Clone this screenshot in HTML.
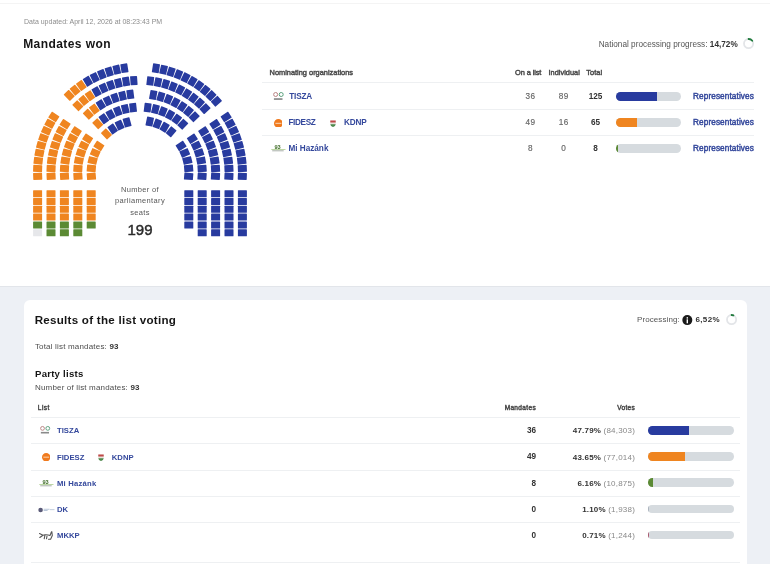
<!DOCTYPE html>
<html><head><meta charset="utf-8"><style>
html,body{margin:0;padding:0;background:#fff;width:770px;height:564px;overflow:hidden}
body{position:relative;font-family:"Liberation Sans",sans-serif;-webkit-font-smoothing:antialiased}
.t{position:absolute;white-space:nowrap;line-height:1}
.abs{position:absolute}
</style></head><body><div style="position:absolute;left:0;top:0;width:770px;height:564px;will-change:transform;filter:blur(0.4px)">
<div class="abs" style="left:0;top:3px;width:770px;height:1px;background:#f4f4f4"></div>
<div class="t" style="left:24px;top:17.60px;font-size:7px;font-weight:400;color:#8d8d8d;letter-spacing:0px;">Data updated: April 12, 2026 at 08:23:43 PM</div>
<div class="t" style="left:23.2px;top:37.80px;font-size:12px;font-weight:700;color:#151515;letter-spacing:0.42px;">Mandates won</div>
<div class="t" style="right:32.299999999999955px;top:40.90px;font-size:8.2px;font-weight:400;color:#555;letter-spacing:0.02px;">National processing progress: <b style="color:#333">14,72%</b></div>
<svg class="abs" style="left:742.0px;top:36.6px" width="13.2" height="13.2" viewBox="742.0 36.6 13.2 13.2"><circle cx="748.6" cy="43.2" r="4.6" fill="none" stroke="#e3e5e8" stroke-width="1.8"/><path d="M748.6 38.6 A4.6 4.6 0 0 1 752.27 40.43" fill="none" stroke="#1f7a3c" stroke-width="1.8" stroke-linecap="round"/></svg>
<svg class="abs" style="left:0;top:0" width="260" height="250" viewBox="0 0 260 250"><rect x="33.18" y="172.80" width="9.0" height="7.0" rx="0.5" fill="#ef8520" transform="rotate(-2.24 37.68 176.30)"/>
<rect x="237.82" y="172.80" width="9.0" height="7.0" rx="0.5" fill="#283b9f" transform="rotate(2.24 242.32 176.30)"/>
<rect x="33.17" y="165.00" width="9.0" height="7.0" rx="0.5" fill="#ef8520" transform="rotate(2.13 37.67 168.50)"/>
<rect x="237.83" y="165.00" width="9.0" height="7.0" rx="0.5" fill="#283b9f" transform="rotate(-2.13 242.33 168.50)"/>
<rect x="33.76" y="157.22" width="9.0" height="7.0" rx="0.5" fill="#ef8520" transform="rotate(6.50 38.26 160.72)"/>
<rect x="237.24" y="157.22" width="9.0" height="7.0" rx="0.5" fill="#283b9f" transform="rotate(-6.50 241.74 160.72)"/>
<rect x="34.94" y="149.50" width="9.0" height="7.0" rx="0.5" fill="#ef8520" transform="rotate(10.86 39.44 153.00)"/>
<rect x="236.06" y="149.50" width="9.0" height="7.0" rx="0.5" fill="#283b9f" transform="rotate(-10.86 240.56 153.00)"/>
<rect x="36.70" y="141.90" width="9.0" height="7.0" rx="0.5" fill="#ef8520" transform="rotate(15.23 41.20 145.40)"/>
<rect x="234.30" y="141.90" width="9.0" height="7.0" rx="0.5" fill="#283b9f" transform="rotate(-15.23 238.80 145.40)"/>
<rect x="39.03" y="134.45" width="9.0" height="7.0" rx="0.5" fill="#ef8520" transform="rotate(19.60 43.53 137.95)"/>
<rect x="231.97" y="134.45" width="9.0" height="7.0" rx="0.5" fill="#283b9f" transform="rotate(-19.60 236.47 137.95)"/>
<rect x="41.93" y="127.21" width="9.0" height="7.0" rx="0.5" fill="#ef8520" transform="rotate(23.97 46.43 130.71)"/>
<rect x="229.07" y="127.21" width="9.0" height="7.0" rx="0.5" fill="#283b9f" transform="rotate(-23.97 233.57 130.71)"/>
<rect x="45.37" y="120.20" width="9.0" height="7.0" rx="0.5" fill="#ef8520" transform="rotate(28.33 49.87 123.70)"/>
<rect x="225.63" y="120.20" width="9.0" height="7.0" rx="0.5" fill="#283b9f" transform="rotate(-28.33 230.13 123.70)"/>
<rect x="49.33" y="113.48" width="9.0" height="7.0" rx="0.5" fill="#ef8520" transform="rotate(32.70 53.83 116.98)"/>
<rect x="221.67" y="113.48" width="9.0" height="7.0" rx="0.5" fill="#283b9f" transform="rotate(-32.70 226.17 116.98)"/>
<rect x="46.59" y="172.80" width="9.0" height="7.0" rx="0.5" fill="#ef8520" transform="rotate(-2.58 51.09 176.30)"/>
<rect x="224.41" y="172.80" width="9.0" height="7.0" rx="0.5" fill="#283b9f" transform="rotate(2.58 228.91 176.30)"/>
<rect x="46.58" y="164.97" width="9.0" height="7.0" rx="0.5" fill="#ef8520" transform="rotate(2.46 51.08 168.47)"/>
<rect x="224.42" y="164.97" width="9.0" height="7.0" rx="0.5" fill="#283b9f" transform="rotate(-2.46 228.92 168.47)"/>
<rect x="47.26" y="157.18" width="9.0" height="7.0" rx="0.5" fill="#ef8520" transform="rotate(7.50 51.76 160.68)"/>
<rect x="223.74" y="157.18" width="9.0" height="7.0" rx="0.5" fill="#283b9f" transform="rotate(-7.50 228.24 160.68)"/>
<rect x="48.62" y="149.47" width="9.0" height="7.0" rx="0.5" fill="#ef8520" transform="rotate(12.54 53.12 152.97)"/>
<rect x="222.38" y="149.47" width="9.0" height="7.0" rx="0.5" fill="#283b9f" transform="rotate(-12.54 226.88 152.97)"/>
<rect x="50.66" y="141.92" width="9.0" height="7.0" rx="0.5" fill="#ef8520" transform="rotate(17.58 55.16 145.42)"/>
<rect x="220.34" y="141.92" width="9.0" height="7.0" rx="0.5" fill="#283b9f" transform="rotate(-17.58 224.84 145.42)"/>
<rect x="53.35" y="134.57" width="9.0" height="7.0" rx="0.5" fill="#ef8520" transform="rotate(22.62 57.85 138.07)"/>
<rect x="217.65" y="134.57" width="9.0" height="7.0" rx="0.5" fill="#283b9f" transform="rotate(-22.62 222.15 138.07)"/>
<rect x="56.67" y="127.48" width="9.0" height="7.0" rx="0.5" fill="#ef8520" transform="rotate(27.66 61.17 130.98)"/>
<rect x="214.33" y="127.48" width="9.0" height="7.0" rx="0.5" fill="#283b9f" transform="rotate(-27.66 218.83 130.98)"/>
<rect x="60.61" y="120.72" width="9.0" height="7.0" rx="0.5" fill="#ef8520" transform="rotate(32.70 65.11 124.22)"/>
<rect x="210.39" y="120.72" width="9.0" height="7.0" rx="0.5" fill="#283b9f" transform="rotate(-32.70 214.89 124.22)"/>
<rect x="60.01" y="172.80" width="9.0" height="7.0" rx="0.5" fill="#ef8520" transform="rotate(-3.03 64.51 176.30)"/>
<rect x="210.99" y="172.80" width="9.0" height="7.0" rx="0.5" fill="#283b9f" transform="rotate(3.03 215.49 176.30)"/>
<rect x="60.00" y="164.95" width="9.0" height="7.0" rx="0.5" fill="#ef8520" transform="rotate(2.92 64.50 168.45)"/>
<rect x="211.00" y="164.95" width="9.0" height="7.0" rx="0.5" fill="#283b9f" transform="rotate(-2.92 215.50 168.45)"/>
<rect x="60.81" y="157.13" width="9.0" height="7.0" rx="0.5" fill="#ef8520" transform="rotate(8.88 65.31 160.63)"/>
<rect x="210.19" y="157.13" width="9.0" height="7.0" rx="0.5" fill="#283b9f" transform="rotate(-8.88 214.69 160.63)"/>
<rect x="62.42" y="149.45" width="9.0" height="7.0" rx="0.5" fill="#ef8520" transform="rotate(14.83 66.92 152.95)"/>
<rect x="208.58" y="149.45" width="9.0" height="7.0" rx="0.5" fill="#283b9f" transform="rotate(-14.83 213.08 152.95)"/>
<rect x="64.82" y="141.97" width="9.0" height="7.0" rx="0.5" fill="#ef8520" transform="rotate(20.79 69.32 145.47)"/>
<rect x="206.18" y="141.97" width="9.0" height="7.0" rx="0.5" fill="#283b9f" transform="rotate(-20.79 210.68 145.47)"/>
<rect x="67.99" y="134.78" width="9.0" height="7.0" rx="0.5" fill="#ef8520" transform="rotate(26.74 72.49 138.28)"/>
<rect x="203.01" y="134.78" width="9.0" height="7.0" rx="0.5" fill="#283b9f" transform="rotate(-26.74 207.51 138.28)"/>
<rect x="71.88" y="127.96" width="9.0" height="7.0" rx="0.5" fill="#ef8520" transform="rotate(32.70 76.38 131.46)"/>
<rect x="199.12" y="127.96" width="9.0" height="7.0" rx="0.5" fill="#283b9f" transform="rotate(-32.70 203.62 131.46)"/>
<rect x="73.43" y="172.80" width="9.0" height="7.0" rx="0.5" fill="#ef8520" transform="rotate(-3.69 77.93 176.30)"/>
<rect x="197.57" y="172.80" width="9.0" height="7.0" rx="0.5" fill="#283b9f" transform="rotate(3.69 202.07 176.30)"/>
<rect x="73.42" y="164.90" width="9.0" height="7.0" rx="0.5" fill="#ef8520" transform="rotate(3.59 77.92 168.40)"/>
<rect x="197.58" y="164.90" width="9.0" height="7.0" rx="0.5" fill="#283b9f" transform="rotate(-3.59 202.08 168.40)"/>
<rect x="74.42" y="157.07" width="9.0" height="7.0" rx="0.5" fill="#ef8520" transform="rotate(10.87 78.92 160.57)"/>
<rect x="196.58" y="157.07" width="9.0" height="7.0" rx="0.5" fill="#283b9f" transform="rotate(-10.87 201.08 160.57)"/>
<rect x="76.39" y="149.43" width="9.0" height="7.0" rx="0.5" fill="#ef8520" transform="rotate(18.15 80.89 152.93)"/>
<rect x="194.61" y="149.43" width="9.0" height="7.0" rx="0.5" fill="#283b9f" transform="rotate(-18.15 199.11 152.93)"/>
<rect x="79.32" y="142.10" width="9.0" height="7.0" rx="0.5" fill="#ef8520" transform="rotate(25.42 83.82 145.60)"/>
<rect x="191.68" y="142.10" width="9.0" height="7.0" rx="0.5" fill="#283b9f" transform="rotate(-25.42 196.18 145.60)"/>
<rect x="83.16" y="135.20" width="9.0" height="7.0" rx="0.5" fill="#ef8520" transform="rotate(32.70 87.66 138.70)"/>
<rect x="187.84" y="135.20" width="9.0" height="7.0" rx="0.5" fill="#283b9f" transform="rotate(-32.70 192.34 138.70)"/>
<rect x="86.86" y="172.80" width="9.0" height="7.0" rx="0.5" fill="#ef8520" transform="rotate(-4.70 91.36 176.30)"/>
<rect x="184.14" y="172.80" width="9.0" height="7.0" rx="0.5" fill="#283b9f" transform="rotate(4.70 188.64 176.30)"/>
<rect x="86.86" y="164.84" width="9.0" height="7.0" rx="0.5" fill="#ef8520" transform="rotate(4.65 91.36 168.34)"/>
<rect x="184.14" y="164.84" width="9.0" height="7.0" rx="0.5" fill="#283b9f" transform="rotate(-4.65 188.64 168.34)"/>
<rect x="88.15" y="156.99" width="9.0" height="7.0" rx="0.5" fill="#ef8520" transform="rotate(14.00 92.65 160.49)"/>
<rect x="182.85" y="156.99" width="9.0" height="7.0" rx="0.5" fill="#283b9f" transform="rotate(-14.00 187.35 160.49)"/>
<rect x="90.70" y="149.46" width="9.0" height="7.0" rx="0.5" fill="#ef8520" transform="rotate(23.35 95.20 152.96)"/>
<rect x="180.30" y="149.46" width="9.0" height="7.0" rx="0.5" fill="#283b9f" transform="rotate(-23.35 184.80 152.96)"/>
<rect x="94.43" y="142.44" width="9.0" height="7.0" rx="0.5" fill="#ef8520" transform="rotate(32.70 98.93 145.94)"/>
<rect x="176.57" y="142.44" width="9.0" height="7.0" rx="0.5" fill="#283b9f" transform="rotate(-32.70 181.07 145.94)"/>
<rect x="64.75" y="91.87" width="9.0" height="7.0" rx="0.5" fill="#ef8520" transform="rotate(46.30 69.25 95.37)"/>
<rect x="70.60" y="86.70" width="9.0" height="7.0" rx="0.5" fill="#ef8520" transform="rotate(50.67 75.10 90.20)"/>
<rect x="76.82" y="81.98" width="9.0" height="7.0" rx="0.5" fill="#ef8520" transform="rotate(55.03 81.32 85.48)"/>
<rect x="83.38" y="77.76" width="9.0" height="7.0" rx="0.5" fill="#283b9f" transform="rotate(59.40 87.88 81.26)"/>
<rect x="90.24" y="74.04" width="9.0" height="7.0" rx="0.5" fill="#283b9f" transform="rotate(63.77 94.74 77.54)"/>
<rect x="97.37" y="70.87" width="9.0" height="7.0" rx="0.5" fill="#283b9f" transform="rotate(68.14 101.87 74.37)"/>
<rect x="104.71" y="68.24" width="9.0" height="7.0" rx="0.5" fill="#283b9f" transform="rotate(72.50 109.21 71.74)"/>
<rect x="112.24" y="66.18" width="9.0" height="7.0" rx="0.5" fill="#283b9f" transform="rotate(76.87 116.74 69.68)"/>
<rect x="119.90" y="64.69" width="9.0" height="7.0" rx="0.5" fill="#283b9f" transform="rotate(81.24 124.40 68.19)"/>
<rect x="73.34" y="102.20" width="9.0" height="7.0" rx="0.5" fill="#ef8520" transform="rotate(45.70 77.84 105.70)"/>
<rect x="79.18" y="96.99" width="9.0" height="7.0" rx="0.5" fill="#ef8520" transform="rotate(50.74 83.68 100.49)"/>
<rect x="85.45" y="92.31" width="9.0" height="7.0" rx="0.5" fill="#ef8520" transform="rotate(55.78 89.95 95.81)"/>
<rect x="92.11" y="88.20" width="9.0" height="7.0" rx="0.5" fill="#283b9f" transform="rotate(60.82 96.61 91.70)"/>
<rect x="99.10" y="84.68" width="9.0" height="7.0" rx="0.5" fill="#283b9f" transform="rotate(65.86 103.60 88.18)"/>
<rect x="106.37" y="81.80" width="9.0" height="7.0" rx="0.5" fill="#283b9f" transform="rotate(70.90 110.87 85.30)"/>
<rect x="113.87" y="79.57" width="9.0" height="7.0" rx="0.5" fill="#283b9f" transform="rotate(75.94 118.37 83.07)"/>
<rect x="121.54" y="78.00" width="9.0" height="7.0" rx="0.5" fill="#283b9f" transform="rotate(80.98 126.04 81.50)"/>
<rect x="129.32" y="77.12" width="9.0" height="7.0" rx="0.5" fill="#283b9f" transform="rotate(86.02 133.82 80.62)"/>
<rect x="83.84" y="110.70" width="9.0" height="7.0" rx="0.5" fill="#ef8520" transform="rotate(46.90 88.34 114.20)"/>
<rect x="89.85" y="105.64" width="9.0" height="7.0" rx="0.5" fill="#ef8520" transform="rotate(52.86 94.35 109.14)"/>
<rect x="96.35" y="101.23" width="9.0" height="7.0" rx="0.5" fill="#283b9f" transform="rotate(58.81 100.85 104.73)"/>
<rect x="103.27" y="97.51" width="9.0" height="7.0" rx="0.5" fill="#283b9f" transform="rotate(64.77 107.77 101.01)"/>
<rect x="110.54" y="94.54" width="9.0" height="7.0" rx="0.5" fill="#283b9f" transform="rotate(70.72 115.04 98.04)"/>
<rect x="118.08" y="92.33" width="9.0" height="7.0" rx="0.5" fill="#283b9f" transform="rotate(76.68 122.58 95.83)"/>
<rect x="125.81" y="90.92" width="9.0" height="7.0" rx="0.5" fill="#283b9f" transform="rotate(82.63 130.31 94.42)"/>
<rect x="93.24" y="120.26" width="9.0" height="7.0" rx="0.5" fill="#ef8520" transform="rotate(47.20 97.74 123.76)"/>
<rect x="99.36" y="115.28" width="9.0" height="7.0" rx="0.5" fill="#283b9f" transform="rotate(54.48 103.86 118.78)"/>
<rect x="106.06" y="111.11" width="9.0" height="7.0" rx="0.5" fill="#283b9f" transform="rotate(61.75 110.56 114.61)"/>
<rect x="113.24" y="107.82" width="9.0" height="7.0" rx="0.5" fill="#283b9f" transform="rotate(69.03 117.74 111.32)"/>
<rect x="120.78" y="105.47" width="9.0" height="7.0" rx="0.5" fill="#283b9f" transform="rotate(76.31 125.28 108.97)"/>
<rect x="128.55" y="104.09" width="9.0" height="7.0" rx="0.5" fill="#283b9f" transform="rotate(83.59 133.05 107.59)"/>
<rect x="101.97" y="130.44" width="9.0" height="7.0" rx="0.5" fill="#ef8520" transform="rotate(46.60 106.47 133.94)"/>
<rect x="108.18" y="125.47" width="9.0" height="7.0" rx="0.5" fill="#283b9f" transform="rotate(55.95 112.68 128.97)"/>
<rect x="115.11" y="121.56" width="9.0" height="7.0" rx="0.5" fill="#283b9f" transform="rotate(65.30 119.61 125.06)"/>
<rect x="122.58" y="118.84" width="9.0" height="7.0" rx="0.5" fill="#283b9f" transform="rotate(74.65 127.08 122.34)"/>
<rect x="151.43" y="64.75" width="9.0" height="7.0" rx="0.5" fill="#283b9f" transform="rotate(-81.05 155.93 68.25)"/>
<rect x="159.08" y="66.25" width="9.0" height="7.0" rx="0.5" fill="#283b9f" transform="rotate(-76.69 163.58 69.75)"/>
<rect x="166.60" y="68.34" width="9.0" height="7.0" rx="0.5" fill="#283b9f" transform="rotate(-72.32 171.10 71.84)"/>
<rect x="173.94" y="70.99" width="9.0" height="7.0" rx="0.5" fill="#283b9f" transform="rotate(-67.95 178.44 74.49)"/>
<rect x="181.06" y="74.19" width="9.0" height="7.0" rx="0.5" fill="#283b9f" transform="rotate(-63.58 185.56 77.69)"/>
<rect x="187.91" y="77.93" width="9.0" height="7.0" rx="0.5" fill="#283b9f" transform="rotate(-59.22 192.41 81.43)"/>
<rect x="194.46" y="82.17" width="9.0" height="7.0" rx="0.5" fill="#283b9f" transform="rotate(-54.85 198.96 85.67)"/>
<rect x="200.66" y="86.91" width="9.0" height="7.0" rx="0.5" fill="#283b9f" transform="rotate(-50.48 205.16 90.41)"/>
<rect x="206.49" y="92.10" width="9.0" height="7.0" rx="0.5" fill="#283b9f" transform="rotate(-46.11 210.99 95.60)"/>
<rect x="211.90" y="97.72" width="9.0" height="7.0" rx="0.5" fill="#283b9f" transform="rotate(-41.75 216.40 101.22)"/>
<rect x="145.79" y="77.50" width="9.0" height="7.0" rx="0.5" fill="#283b9f" transform="rotate(-83.36 150.29 81.00)"/>
<rect x="153.52" y="78.74" width="9.0" height="7.0" rx="0.5" fill="#283b9f" transform="rotate(-78.32 158.02 82.24)"/>
<rect x="161.11" y="80.66" width="9.0" height="7.0" rx="0.5" fill="#283b9f" transform="rotate(-73.28 165.61 84.16)"/>
<rect x="168.49" y="83.24" width="9.0" height="7.0" rx="0.5" fill="#283b9f" transform="rotate(-68.24 172.99 86.74)"/>
<rect x="175.63" y="86.46" width="9.0" height="7.0" rx="0.5" fill="#283b9f" transform="rotate(-63.20 180.13 89.96)"/>
<rect x="182.45" y="90.29" width="9.0" height="7.0" rx="0.5" fill="#283b9f" transform="rotate(-58.16 186.95 93.79)"/>
<rect x="188.91" y="94.71" width="9.0" height="7.0" rx="0.5" fill="#283b9f" transform="rotate(-53.12 193.41 98.21)"/>
<rect x="194.96" y="99.68" width="9.0" height="7.0" rx="0.5" fill="#283b9f" transform="rotate(-48.08 199.46 103.18)"/>
<rect x="200.55" y="105.15" width="9.0" height="7.0" rx="0.5" fill="#283b9f" transform="rotate(-43.04 205.05 108.65)"/>
<rect x="148.74" y="91.47" width="9.0" height="7.0" rx="0.5" fill="#283b9f" transform="rotate(-79.92 153.24 94.97)"/>
<rect x="156.39" y="93.24" width="9.0" height="7.0" rx="0.5" fill="#283b9f" transform="rotate(-73.96 160.89 96.74)"/>
<rect x="163.81" y="95.80" width="9.0" height="7.0" rx="0.5" fill="#283b9f" transform="rotate(-68.01 168.31 99.30)"/>
<rect x="170.93" y="99.12" width="9.0" height="7.0" rx="0.5" fill="#283b9f" transform="rotate(-62.05 175.43 102.62)"/>
<rect x="177.67" y="103.16" width="9.0" height="7.0" rx="0.5" fill="#283b9f" transform="rotate(-56.09 182.17 106.66)"/>
<rect x="183.95" y="107.87" width="9.0" height="7.0" rx="0.5" fill="#283b9f" transform="rotate(-50.14 188.45 111.37)"/>
<rect x="189.71" y="113.21" width="9.0" height="7.0" rx="0.5" fill="#283b9f" transform="rotate(-44.18 194.21 116.71)"/>
<rect x="143.14" y="104.17" width="9.0" height="7.0" rx="0.5" fill="#283b9f" transform="rotate(-82.94 147.64 107.67)"/>
<rect x="150.90" y="105.64" width="9.0" height="7.0" rx="0.5" fill="#283b9f" transform="rotate(-75.67 155.40 109.14)"/>
<rect x="158.41" y="108.07" width="9.0" height="7.0" rx="0.5" fill="#283b9f" transform="rotate(-68.39 162.91 111.57)"/>
<rect x="165.55" y="111.44" width="9.0" height="7.0" rx="0.5" fill="#283b9f" transform="rotate(-61.11 170.05 114.94)"/>
<rect x="172.21" y="115.69" width="9.0" height="7.0" rx="0.5" fill="#283b9f" transform="rotate(-53.83 176.71 119.19)"/>
<rect x="178.27" y="120.74" width="9.0" height="7.0" rx="0.5" fill="#283b9f" transform="rotate(-46.56 182.77 124.24)"/>
<rect x="145.25" y="118.08" width="9.0" height="7.0" rx="0.5" fill="#283b9f" transform="rotate(-78.48 149.75 121.58)"/>
<rect x="152.89" y="120.30" width="9.0" height="7.0" rx="0.5" fill="#283b9f" transform="rotate(-69.13 157.39 123.80)"/>
<rect x="160.07" y="123.73" width="9.0" height="7.0" rx="0.5" fill="#283b9f" transform="rotate(-59.77 164.57 127.23)"/>
<rect x="166.59" y="128.29" width="9.0" height="7.0" rx="0.5" fill="#283b9f" transform="rotate(-50.42 171.09 131.79)"/>
<rect x="33.10" y="190.20" width="9.0" height="7.0" rx="0.5" fill="#ef8520"/>
<rect x="33.10" y="198.00" width="9.0" height="7.0" rx="0.5" fill="#ef8520"/>
<rect x="33.10" y="205.80" width="9.0" height="7.0" rx="0.5" fill="#ef8520"/>
<rect x="33.10" y="213.60" width="9.0" height="7.0" rx="0.5" fill="#ef8520"/>
<rect x="33.10" y="221.40" width="9.0" height="7.0" rx="0.5" fill="#5b8a34"/>
<rect x="33.10" y="229.20" width="9.0" height="7.0" rx="0.5" fill="#e6e7ea"/>
<rect x="46.50" y="190.20" width="9.0" height="7.0" rx="0.5" fill="#ef8520"/>
<rect x="46.50" y="198.00" width="9.0" height="7.0" rx="0.5" fill="#ef8520"/>
<rect x="46.50" y="205.80" width="9.0" height="7.0" rx="0.5" fill="#ef8520"/>
<rect x="46.50" y="213.60" width="9.0" height="7.0" rx="0.5" fill="#ef8520"/>
<rect x="46.50" y="221.40" width="9.0" height="7.0" rx="0.5" fill="#5b8a34"/>
<rect x="46.50" y="229.20" width="9.0" height="7.0" rx="0.5" fill="#5b8a34"/>
<rect x="59.90" y="190.20" width="9.0" height="7.0" rx="0.5" fill="#ef8520"/>
<rect x="59.90" y="198.00" width="9.0" height="7.0" rx="0.5" fill="#ef8520"/>
<rect x="59.90" y="205.80" width="9.0" height="7.0" rx="0.5" fill="#ef8520"/>
<rect x="59.90" y="213.60" width="9.0" height="7.0" rx="0.5" fill="#ef8520"/>
<rect x="59.90" y="221.40" width="9.0" height="7.0" rx="0.5" fill="#5b8a34"/>
<rect x="59.90" y="229.20" width="9.0" height="7.0" rx="0.5" fill="#5b8a34"/>
<rect x="73.30" y="190.20" width="9.0" height="7.0" rx="0.5" fill="#ef8520"/>
<rect x="73.30" y="198.00" width="9.0" height="7.0" rx="0.5" fill="#ef8520"/>
<rect x="73.30" y="205.80" width="9.0" height="7.0" rx="0.5" fill="#ef8520"/>
<rect x="73.30" y="213.60" width="9.0" height="7.0" rx="0.5" fill="#ef8520"/>
<rect x="73.30" y="221.40" width="9.0" height="7.0" rx="0.5" fill="#5b8a34"/>
<rect x="73.30" y="229.20" width="9.0" height="7.0" rx="0.5" fill="#5b8a34"/>
<rect x="86.70" y="190.20" width="9.0" height="7.0" rx="0.5" fill="#ef8520"/>
<rect x="86.70" y="198.00" width="9.0" height="7.0" rx="0.5" fill="#ef8520"/>
<rect x="86.70" y="205.80" width="9.0" height="7.0" rx="0.5" fill="#ef8520"/>
<rect x="86.70" y="213.60" width="9.0" height="7.0" rx="0.5" fill="#ef8520"/>
<rect x="86.70" y="221.40" width="9.0" height="7.0" rx="0.5" fill="#5b8a34"/>
<rect x="237.90" y="190.20" width="9.0" height="7.0" rx="0.5" fill="#283b9f"/>
<rect x="237.90" y="198.00" width="9.0" height="7.0" rx="0.5" fill="#283b9f"/>
<rect x="237.90" y="205.80" width="9.0" height="7.0" rx="0.5" fill="#283b9f"/>
<rect x="237.90" y="213.60" width="9.0" height="7.0" rx="0.5" fill="#283b9f"/>
<rect x="237.90" y="221.40" width="9.0" height="7.0" rx="0.5" fill="#283b9f"/>
<rect x="237.90" y="229.20" width="9.0" height="7.0" rx="0.5" fill="#283b9f"/>
<rect x="224.50" y="190.20" width="9.0" height="7.0" rx="0.5" fill="#283b9f"/>
<rect x="224.50" y="198.00" width="9.0" height="7.0" rx="0.5" fill="#283b9f"/>
<rect x="224.50" y="205.80" width="9.0" height="7.0" rx="0.5" fill="#283b9f"/>
<rect x="224.50" y="213.60" width="9.0" height="7.0" rx="0.5" fill="#283b9f"/>
<rect x="224.50" y="221.40" width="9.0" height="7.0" rx="0.5" fill="#283b9f"/>
<rect x="224.50" y="229.20" width="9.0" height="7.0" rx="0.5" fill="#283b9f"/>
<rect x="211.10" y="190.20" width="9.0" height="7.0" rx="0.5" fill="#283b9f"/>
<rect x="211.10" y="198.00" width="9.0" height="7.0" rx="0.5" fill="#283b9f"/>
<rect x="211.10" y="205.80" width="9.0" height="7.0" rx="0.5" fill="#283b9f"/>
<rect x="211.10" y="213.60" width="9.0" height="7.0" rx="0.5" fill="#283b9f"/>
<rect x="211.10" y="221.40" width="9.0" height="7.0" rx="0.5" fill="#283b9f"/>
<rect x="211.10" y="229.20" width="9.0" height="7.0" rx="0.5" fill="#283b9f"/>
<rect x="197.70" y="190.20" width="9.0" height="7.0" rx="0.5" fill="#283b9f"/>
<rect x="197.70" y="198.00" width="9.0" height="7.0" rx="0.5" fill="#283b9f"/>
<rect x="197.70" y="205.80" width="9.0" height="7.0" rx="0.5" fill="#283b9f"/>
<rect x="197.70" y="213.60" width="9.0" height="7.0" rx="0.5" fill="#283b9f"/>
<rect x="197.70" y="221.40" width="9.0" height="7.0" rx="0.5" fill="#283b9f"/>
<rect x="197.70" y="229.20" width="9.0" height="7.0" rx="0.5" fill="#283b9f"/>
<rect x="184.30" y="190.20" width="9.0" height="7.0" rx="0.5" fill="#283b9f"/>
<rect x="184.30" y="198.00" width="9.0" height="7.0" rx="0.5" fill="#283b9f"/>
<rect x="184.30" y="205.80" width="9.0" height="7.0" rx="0.5" fill="#283b9f"/>
<rect x="184.30" y="213.60" width="9.0" height="7.0" rx="0.5" fill="#283b9f"/>
<rect x="184.30" y="221.40" width="9.0" height="7.0" rx="0.5" fill="#283b9f"/></svg>
<div class="t" style="left:140px;transform:translateX(-50%);top:185.55px;font-size:7.5px;font-weight:400;color:#585858;letter-spacing:0.32px;">Number of</div>
<div class="t" style="left:140px;transform:translateX(-50%);top:197.35px;font-size:7.5px;font-weight:400;color:#585858;letter-spacing:0.36px;">parliamentary</div>
<div class="t" style="left:140px;transform:translateX(-50%);top:209.25px;font-size:7.5px;font-weight:400;color:#585858;letter-spacing:0.3px;">seats</div>
<div class="t" style="left:140px;transform:translateX(-50%);top:221.60px;font-size:15px;font-weight:400;color:#2b2b2b;letter-spacing:0.05px;-webkit-text-stroke:0.45px #2b2b2b;">199</div>
<div class="t" style="left:269.6px;top:69.40px;font-size:7.4px;font-weight:400;color:#4a4a4a;letter-spacing:0px;-webkit-text-stroke:0.45px currentColor;">Nominating organizations</div>
<div class="t" style="left:528.2px;transform:translateX(-50%);top:69.20px;font-size:7.4px;font-weight:400;color:#4a4a4a;letter-spacing:-0.1px;-webkit-text-stroke:0.45px currentColor;">On a list</div>
<div class="t" style="left:564.2px;transform:translateX(-50%);top:69.20px;font-size:7.4px;font-weight:400;color:#4a4a4a;letter-spacing:0px;-webkit-text-stroke:0.45px currentColor;">Individual</div>
<div class="t" style="left:594.3px;transform:translateX(-50%);top:69.20px;font-size:7.4px;font-weight:400;color:#4a4a4a;letter-spacing:0.05px;-webkit-text-stroke:0.45px currentColor;">Total</div>
<div class="abs" style="left:262px;top:82px;width:492px;height:1px;background:#eef0f2"></div>
<div class="t" style="left:289.3px;top:93.20px;font-size:8.2px;font-weight:700;color:#34489c;letter-spacing:-0.2px;">TISZA</div>
<div class="t" style="left:530.4px;transform:translateX(-50%);top:93.20px;font-size:8.2px;font-weight:400;color:#666;letter-spacing:0.3px;-webkit-text-stroke:0.15px currentColor;">36</div>
<div class="t" style="left:563.7px;transform:translateX(-50%);top:93.20px;font-size:8.2px;font-weight:400;color:#666;letter-spacing:0.3px;-webkit-text-stroke:0.15px currentColor;">89</div>
<div class="t" style="left:595.6px;transform:translateX(-50%);top:93.20px;font-size:8.2px;font-weight:700;color:#333;letter-spacing:0px;">125</div>
<div class="abs" style="left:615.8px;top:92.30px;width:65.5px;height:9px;border-radius:4.5px;background:#d6dbdf;overflow:hidden"><div style="width:41.14px;height:9px;background:#283b9f"></div></div>
<div class="t" style="left:693px;top:93.20px;font-size:8.2px;font-weight:400;color:#34489c;letter-spacing:0.12px;-webkit-text-stroke:0.45px currentColor;">Representatives</div>
<div class="abs" style="left:262px;top:109px;width:492px;height:1px;background:#eef0f2"></div>
<div class="t" style="left:288.4px;top:119.20px;font-size:8.2px;font-weight:700;color:#34489c;letter-spacing:-0.35px;">FIDESZ</div>
<div class="t" style="left:344px;top:119.20px;font-size:8.2px;font-weight:700;color:#34489c;letter-spacing:-0.2px;">KDNP</div>
<div class="t" style="left:530.4px;transform:translateX(-50%);top:119.20px;font-size:8.2px;font-weight:400;color:#666;letter-spacing:0.3px;-webkit-text-stroke:0.15px currentColor;">49</div>
<div class="t" style="left:563.7px;transform:translateX(-50%);top:119.20px;font-size:8.2px;font-weight:400;color:#666;letter-spacing:0.3px;-webkit-text-stroke:0.15px currentColor;">16</div>
<div class="t" style="left:595.6px;transform:translateX(-50%);top:119.20px;font-size:8.2px;font-weight:700;color:#333;letter-spacing:0px;">65</div>
<div class="abs" style="left:615.8px;top:118.30px;width:65.5px;height:9px;border-radius:4.5px;background:#d6dbdf;overflow:hidden"><div style="width:21.39px;height:9px;background:#ef8520"></div></div>
<div class="t" style="left:693px;top:119.20px;font-size:8.2px;font-weight:400;color:#34489c;letter-spacing:0.12px;-webkit-text-stroke:0.45px currentColor;">Representatives</div>
<div class="abs" style="left:262px;top:135px;width:492px;height:1px;background:#eef0f2"></div>
<div class="t" style="left:288.4px;top:145.20px;font-size:8.2px;font-weight:700;color:#34489c;letter-spacing:0px;">Mi Hazánk</div>
<div class="t" style="left:530.4px;transform:translateX(-50%);top:145.20px;font-size:8.2px;font-weight:400;color:#666;letter-spacing:0.3px;-webkit-text-stroke:0.15px currentColor;">8</div>
<div class="t" style="left:563.7px;transform:translateX(-50%);top:145.20px;font-size:8.2px;font-weight:400;color:#666;letter-spacing:0.3px;-webkit-text-stroke:0.15px currentColor;">0</div>
<div class="t" style="left:595.6px;transform:translateX(-50%);top:145.20px;font-size:8.2px;font-weight:700;color:#333;letter-spacing:0px;">8</div>
<div class="abs" style="left:615.8px;top:144.30px;width:65.5px;height:9px;border-radius:4.5px;background:#d6dbdf;overflow:hidden"><div style="width:2.63px;height:9px;background:#5b8a34"></div></div>
<div class="t" style="left:693px;top:145.20px;font-size:8.2px;font-weight:400;color:#34489c;letter-spacing:0.12px;-webkit-text-stroke:0.45px currentColor;">Representatives</div>
<svg class="abs" style="left:273px;top:91.75px;overflow:visible" width="11.0" height="9.0" viewBox="0 0 11 9"><circle cx="2.65" cy="2.5" r="2.0" fill="none" stroke="#b98383" stroke-width="1.0"/><circle cx="8.2" cy="2.5" r="2.0" fill="none" stroke="#5aa07c" stroke-width="1.0"/><rect x="0.9" y="6.2" width="8.6" height="1.7" fill="#8a8a8a"/></svg>
<svg class="abs" style="left:273.70000000000005px;top:118.5px" width="8.8" height="8.8" viewBox="0 0 10 10"><circle cx="5" cy="5" r="5" fill="#f07a1e"/><rect x="1.6" y="4.3" width="6.8" height="1.4" fill="#f9c79a"/></svg>
<svg class="abs" style="left:330.2px;top:119.8px" width="6.0" height="7.0" viewBox="0 0 6 7"><path d="M0.3 0.5 H5.7 V4 Q5.7 6.3 3 6.9 Q0.3 6.3 0.3 4 Z" fill="#e9e2dc"/><rect x="0.3" y="0.5" width="5.4" height="2" fill="#c04848"/><path d="M0.3 4.2 H5.7 Q5.5 6.3 3 6.9 Q0.5 6.3 0.3 4.2Z" fill="#4d8a4d"/></svg>
<svg class="abs" style="left:270.8px;top:143.6px;overflow:visible" width="15.0" height="8.0" viewBox="0 0 15 8"><text x="3.6" y="4.6" font-family="Liberation Sans" font-weight="700" font-size="5.6" fill="#3d6b26" letter-spacing="-0.2">93</text><rect x="0.3" y="5.0" width="14.2" height="0.9" fill="#b5d39a"/><rect x="1.2" y="6.3" width="11.5" height="1.0" fill="#a9b0a9"/></svg>
<div class="abs" style="left:0;top:286px;width:770px;height:278px;background:#edf0f5;border-top:1px solid #e2e5ea"></div>
<div class="abs" style="left:24.3px;top:300px;width:722.5px;height:280px;background:#fff;border-radius:6px"></div>
<div class="t" style="left:34.7px;top:314.20px;font-size:11.6px;font-weight:700;color:#151515;letter-spacing:0.26px;">Results of the list voting</div>
<div class="t" style="left:34.9px;top:342.90px;font-size:8px;font-weight:400;color:#4d4d4d;letter-spacing:0.18px;">Total list mandates: <b style="color:#333">93</b></div>
<div class="t" style="left:35px;top:369.20px;font-size:9.6px;font-weight:700;color:#151515;letter-spacing:0.24px;">Party lists</div>
<div class="t" style="left:35px;top:383.80px;font-size:8px;font-weight:400;color:#4d4d4d;letter-spacing:0.17px;">Number of list mandates: <b style="color:#333">93</b></div>
<div class="t" style="left:637px;top:316.40px;font-size:8px;font-weight:400;color:#555;letter-spacing:0.09px;">Processing:</div>
<svg class="abs" style="left:682px;top:315px" width="11" height="11" viewBox="0 0 11 11"><circle cx="5.3" cy="5.1" r="5" fill="#1a1a1a"/><rect x="4.6" y="4.3" width="1.4" height="4" fill="#fff"/><circle cx="5.3" cy="2.9" r="0.8" fill="#fff"/></svg>
<div class="t" style="left:695.4px;top:316.40px;font-size:8px;font-weight:700;color:#333;letter-spacing:0.38px;">6,52%</div>
<svg class="abs" style="left:725.4px;top:313.29999999999995px" width="13.2" height="13.2" viewBox="725.4 313.29999999999995 13.2 13.2"><circle cx="732" cy="319.9" r="4.6" fill="none" stroke="#e3e5e8" stroke-width="1.8"/><path d="M732 315.29999999999995 A4.6 4.6 0 0 1 733.83 315.68" fill="none" stroke="#1f7a3c" stroke-width="1.8" stroke-linecap="round"/></svg>
<div class="t" style="left:37.8px;top:405.25px;font-size:6.5px;font-weight:400;color:#4a4a4a;letter-spacing:0.5px;-webkit-text-stroke:0.45px currentColor;">List</div>
<div class="t" style="right:234px;top:405.25px;font-size:6.5px;font-weight:400;color:#4a4a4a;letter-spacing:0.35px;-webkit-text-stroke:0.45px currentColor;">Mandates</div>
<div class="t" style="right:135px;top:405.25px;font-size:6.5px;font-weight:400;color:#4a4a4a;letter-spacing:0.3px;-webkit-text-stroke:0.45px currentColor;">Votes</div>
<div class="abs" style="left:31px;top:417px;width:709px;height:1px;background:#eef0f2"></div>
<div class="t" style="left:57px;top:427.45px;font-size:7.7px;font-weight:700;color:#34489c;letter-spacing:0px;">TISZA</div>
<div class="t" style="right:234px;top:427.20px;font-size:8.2px;font-weight:700;color:#333;letter-spacing:0px;">36</div>
<div class="t" style="right:135px;top:427.30px;font-size:8px;font-weight:400;color:#888;letter-spacing:0.2px;"><b style="color:#333">47.79%</b> <span style="color:#888">(84,303)</span></div>
<div class="abs" style="left:648.1px;top:426.00px;width:85.5px;height:8.8px;border-radius:4.4px;background:#d6dbdf;overflow:hidden"><div style="width:40.86px;height:8.8px;background:#283b9f"></div></div>
<div class="abs" style="left:31px;top:442.8px;width:709px;height:1px;background:#eef0f2"></div>
<div class="t" style="left:57px;top:453.65px;font-size:7.7px;font-weight:700;color:#34489c;letter-spacing:0px;">FIDESZ</div>
<div class="t" style="left:111.8px;top:453.65px;font-size:7.7px;font-weight:700;color:#34489c;letter-spacing:0px;">KDNP</div>
<div class="t" style="right:234px;top:453.40px;font-size:8.2px;font-weight:700;color:#333;letter-spacing:0px;">49</div>
<div class="t" style="right:135px;top:453.50px;font-size:8px;font-weight:400;color:#888;letter-spacing:0.2px;"><b style="color:#333">43.65%</b> <span style="color:#888">(77,014)</span></div>
<div class="abs" style="left:648.1px;top:452.20px;width:85.5px;height:8.8px;border-radius:4.4px;background:#d6dbdf;overflow:hidden"><div style="width:37.32px;height:8.8px;background:#ef8520"></div></div>
<div class="abs" style="left:31px;top:469.5px;width:709px;height:1px;background:#eef0f2"></div>
<div class="t" style="left:57px;top:479.75px;font-size:7.7px;font-weight:700;color:#34489c;letter-spacing:0.2px;">Mi Hazánk</div>
<div class="t" style="right:234px;top:479.50px;font-size:8.2px;font-weight:700;color:#333;letter-spacing:0px;">8</div>
<div class="t" style="right:135px;top:479.60px;font-size:8px;font-weight:400;color:#888;letter-spacing:0.2px;"><b style="color:#333">6.16%</b> <span style="color:#888">(10,875)</span></div>
<div class="abs" style="left:648.1px;top:478.30px;width:85.5px;height:8.8px;border-radius:4.4px;background:#d6dbdf;overflow:hidden"><div style="width:5.27px;height:8.8px;background:#5b8a34"></div></div>
<div class="abs" style="left:31px;top:496.1px;width:709px;height:1px;background:#eef0f2"></div>
<div class="t" style="left:57px;top:506.05px;font-size:7.7px;font-weight:700;color:#34489c;letter-spacing:0px;">DK</div>
<div class="t" style="right:234px;top:505.80px;font-size:8.2px;font-weight:700;color:#333;letter-spacing:0px;">0</div>
<div class="t" style="right:135px;top:505.90px;font-size:8px;font-weight:400;color:#888;letter-spacing:0.2px;"><b style="color:#333">1.10%</b> <span style="color:#888">(1,938)</span></div>
<div class="abs" style="left:648.1px;top:504.60px;width:85.5px;height:8.8px;border-radius:4.4px;background:#d6dbdf;overflow:hidden"><div style="width:1.20px;height:8.8px;background:#aab3bd"></div></div>
<div class="abs" style="left:31px;top:522.1px;width:709px;height:1px;background:#eef0f2"></div>
<div class="t" style="left:57px;top:532.05px;font-size:7.7px;font-weight:700;color:#34489c;letter-spacing:0px;">MKKP</div>
<div class="t" style="right:234px;top:531.80px;font-size:8.2px;font-weight:700;color:#333;letter-spacing:0px;">0</div>
<div class="t" style="right:135px;top:531.90px;font-size:8px;font-weight:400;color:#888;letter-spacing:0.2px;"><b style="color:#333">0.71%</b> <span style="color:#888">(1,244)</span></div>
<div class="abs" style="left:648.1px;top:530.60px;width:85.5px;height:8.8px;border-radius:4.4px;background:#d6dbdf;overflow:hidden"><div style="width:1.20px;height:8.8px;background:#a8566c"></div></div>
<div class="abs" style="left:31px;top:562.0px;width:709px;height:1px;background:#eef0f2"></div>
<svg class="abs" style="left:40.3px;top:425.6px;overflow:visible" width="10.45" height="8.549999999999999" viewBox="0 0 11 9"><circle cx="2.65" cy="2.5" r="2.0" fill="none" stroke="#b98383" stroke-width="1.0"/><circle cx="8.2" cy="2.5" r="2.0" fill="none" stroke="#5aa07c" stroke-width="1.0"/><rect x="0.9" y="6.2" width="8.6" height="1.7" fill="#8a8a8a"/></svg>
<svg class="abs" style="left:41.5px;top:453.1px" width="8.4" height="8.4" viewBox="0 0 10 10"><circle cx="5" cy="5" r="5" fill="#f07a1e"/><rect x="1.6" y="4.3" width="6.8" height="1.4" fill="#f9c79a"/></svg>
<svg class="abs" style="left:98px;top:453.8px" width="6.0" height="7.0" viewBox="0 0 6 7"><path d="M0.3 0.5 H5.7 V4 Q5.7 6.3 3 6.9 Q0.3 6.3 0.3 4 Z" fill="#e9e2dc"/><rect x="0.3" y="0.5" width="5.4" height="2" fill="#c04848"/><path d="M0.3 4.2 H5.7 Q5.5 6.3 3 6.9 Q0.5 6.3 0.3 4.2Z" fill="#4d8a4d"/></svg>
<svg class="abs" style="left:38.5px;top:479.3px;overflow:visible" width="15.0" height="8.0" viewBox="0 0 15 8"><text x="3.6" y="4.6" font-family="Liberation Sans" font-weight="700" font-size="5.6" fill="#3d6b26" letter-spacing="-0.2">93</text><rect x="0.3" y="5.0" width="14.2" height="0.9" fill="#b5d39a"/><rect x="1.2" y="6.3" width="11.5" height="1.0" fill="#a9b0a9"/></svg>
<svg class="abs" style="left:37.5px;top:506.6px" width="17" height="6" viewBox="0 0 17 6"><circle cx="2.6" cy="3" r="2.3" fill="#5a5a78"/><rect x="5.6" y="1.8" width="6" height="0.8" fill="#a8b8d0"/><rect x="5.6" y="3.2" width="4" height="0.8" fill="#a8b8d0"/><rect x="12" y="2.4" width="4.5" height="0.7" fill="#a8b8d0"/></svg>
<svg class="abs" style="left:38.5px;top:531.2px" width="15" height="9" viewBox="0 0 15 9"><path d="M0.5 2.5 L4 4.2 L0.8 6.5 M4 4.2 L6 3.8 Q9 3.6 11 4.6 L12.3 1.2 M12.8 0.6 L13.3 4.5 L11.6 8.2 L9.5 8.2 M6 3.8 L5.2 7.8 M7.5 7.8 L8 5.2" fill="none" stroke="#555" stroke-width="1.1" stroke-linecap="round" stroke-linejoin="round"/></svg>
</div></body></html>
